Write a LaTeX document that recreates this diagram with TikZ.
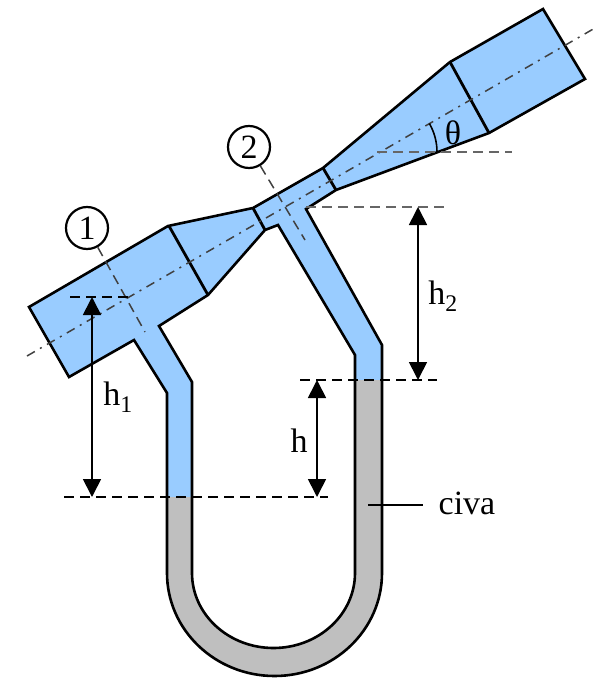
\documentclass[tikz,border=0pt]{standalone}
\definecolor{waterblue}{RGB}{153, 204, 255}
\definecolor{civagray}{RGB}{191, 191, 191}
\usepackage{fontspec}
\setmainfont{Liberation Serif}
\usetikzlibrary{arrows.meta, positioning}
\tikzset{
  wall/.style={line width=2.6pt, line join=miter},
  sectionwall/.style={line width=2.8pt},
  axisline/.style={line width=1.5pt, black!75, dash pattern=on 9pt off 6pt on 2pt off 6pt},
  levelline/.style={line width=1.5pt, dash pattern=on 10pt off 6pt},
  dimarrow/.style={line width=1.7pt, {Triangle[length=18pt,width=18pt]}-{Triangle[length=18pt,width=18pt]}},
  marknode/.style={draw, circle, line width=2.2pt, fill=white, minimum size=42pt, inner sep=0pt, font=\fontsize{34}{34}\selectfont},
  labelnode/.style={inner sep=0pt, font=\fontsize{34}{34}\selectfont}
}

\begin{document}
\begin{tikzpicture}[x=1pt, y=-1pt]
  \useasboundingbox (0,0) rectangle (604,688);

  % Water
  \fill[waterblue] (29,307) -- (168,226) -- (253,208) -- (323,168) -- (450,62) -- (543,9) -- (585,79) -- (489,133) -- (336,190) -- (306,209) -- (382,345) -- (382,380) -- (355,380) -- (355,355) -- (278,225) -- (265,230) -- (208,295) -- (159,326) -- (192,382) -- (192,497) -- (167,497) -- (167,393) -- (134,340) -- (69,377) -- cycle;

  % Mercury
  \fill[civagray] (167,497) -- (167,573) arc[start angle=180, end angle=0, x radius=107.5, y radius=103] -- (382,380) -- (355,380) -- (355,573) arc[start angle=0, end angle=180, x radius=81.5, y radius=75] -- (192,497) -- cycle;

  % Walls
  \draw[wall] (167,573) -- (167,393) -- (134,340) -- (69,377) -- (29,307) -- (168,226) -- (253,208) -- (323,168) -- (450,62) -- (543,9) -- (585,79) -- (489,133) -- (336,190) -- (306,209) -- (382,345) -- (382,573) arc[start angle=0, end angle=180, x radius=107.5, y radius=103];
  \draw[wall] (355,573) -- (355,355) -- (278,225) -- (265,230) -- (208,295) -- (159,326) -- (192,382) -- (192,573) arc[start angle=180, end angle=0, x radius=81.5, y radius=75];

  % Sections
  \draw[sectionwall] (169,226) -- (208,295);
  \draw[sectionwall] (253,208) -- (265,230);
  \draw[sectionwall] (323,168) -- (336,190);
  \draw[sectionwall] (450,62) -- (489,133);

  % Marks
  \node[marknode] (mark1) at (87,228) {1};
  \node[marknode] (mark2) at (249,147) {2};
  \coordinate (end1) at (145,332);
  \coordinate (end2) at (305,240);
  \draw[levelline, black!75] (mark1) -- (end1);
  \draw[levelline, black!75] (mark2) -- (end2);

  % Axis
  \coordinate (axisL) at (27,356);
  \coordinate (axisR) at (595,28);
  \draw[axisline] (axisL) -- (axisR);

  % Levels
  \coordinate (lev1a) at (70,297);
  \coordinate (lev1b) at (128,297);
  \coordinate (lev2a) at (306,207);
  \coordinate (lev2b) at (447,207);
  \coordinate (lev3a) at (300,380);
  \coordinate (lev3b) at (437,380);
  \coordinate (lev4a) at (64,497);
  \coordinate (lev4b) at (328,497);
  \coordinate (lev5a) at (377,152);
  \coordinate (lev5b) at (512,152);
  \draw[levelline] (lev1a) -- (lev1b);
  \draw[levelline, black!60] (lev2a) -- (lev2b);
  \draw[levelline] (lev3a) -- (lev3b);
  \draw[levelline] (lev4a) -- (lev4b);
  \draw[levelline, black!60] (lev5a) -- (lev5b);

  % Heights
  \coordinate (h1top) at (92,297);
  \coordinate (h1bot) at (92,497);
  \coordinate (htop) at (317,380);
  \coordinate (hbot) at (317,497);
  \coordinate (h2top) at (418,207);
  \coordinate (h2bot) at (418,380);
  \draw[dimarrow] (h1top) -- (h1bot);
  \draw[dimarrow] (htop) -- (hbot);
  \draw[dimarrow] (h2top) -- (h2bot);
  \node[labelnode] (h1label) at (118,397) {h\textsubscript{1}};
  \node[labelnode] (hlabel) at (299,441) {h};
  \node[labelnode] (h2label) at (443,296) {h\textsubscript{2}};

  % Angle
  \draw[line width=1.6pt] (437,152) arc[start angle=0, end angle=-30, radius=57];
  \node[labelnode] (thetalabel) at (453,133) {θ};

  % Civa
  \coordinate (civastart) at (368,505);
  \node[labelnode] (civalabel) at (467,503) {civa};
  \draw[line width=1.7pt] (civastart) -- (423,505);
\end{tikzpicture}
\end{document}
